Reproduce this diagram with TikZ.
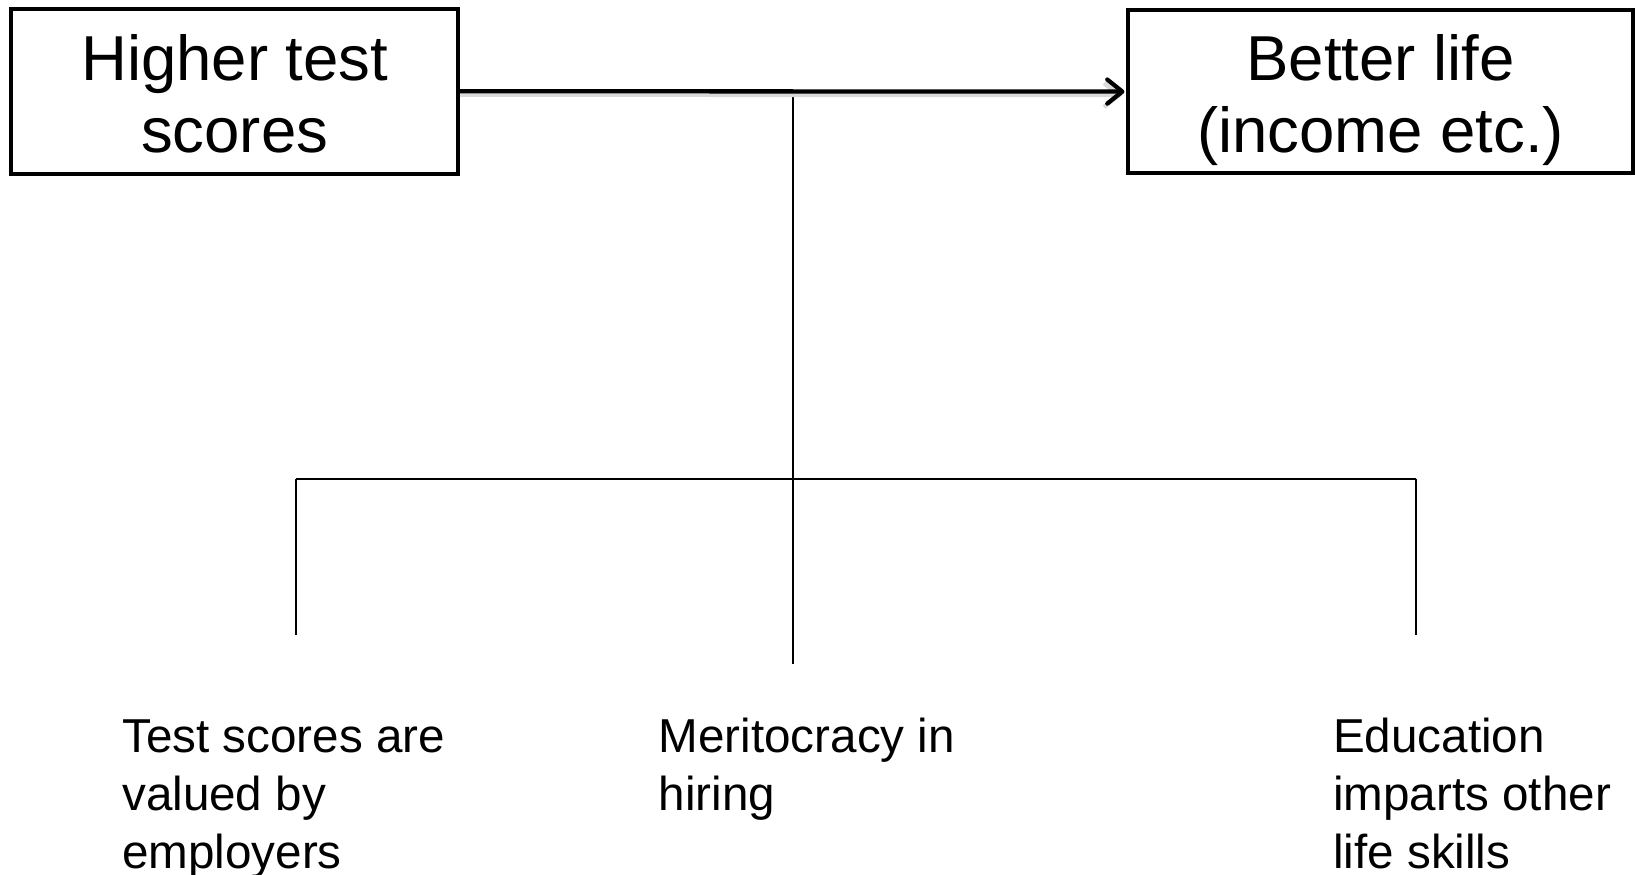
\documentclass[tikz,border=0pt]{standalone}
\usepackage{fontspec}
\setmainfont{Liberation Sans}
\usetikzlibrary{arrows.meta,calc}
\begin{document}
\begin{tikzpicture}[x=1pt,y=-1pt,
  framebox/.style={draw=black, line width=4pt, inner sep=0pt},
  headtext/.style={inner sep=0pt, align=center, font=\fontsize{63.5}{72}\selectfont},
  notetext/.style={inner sep=0pt, align=left, anchor=north west, font=\fontsize{47.6}{58}\selectfont},
  mainarrow/.style={line width=4.3pt, line cap=round, shorten >=2pt,
    -{Straight Barb[length=15pt,width=24pt,line cap=round,line join=round]}},
  arrowshadow/.style={line width=4.3pt, draw=black!15, shorten >=4pt,
    -{Straight Barb[length=15pt,width=24pt]}},
  branch/.style={line width=1.6pt},
  crossbar/.style={line width=2.2pt},
]
\useasboundingbox (0,0) rectangle (1635,875);

% the two outcome boxes
\node[framebox, minimum width=446.7pt, minimum height=165pt] (hts) at (234.7,91.2) {};
\node[framebox, minimum width=504.3pt, minimum height=162.3pt] (bl) at (1380.6,91.6) {};
\node[headtext] (htsText) at ($(hts.center)+(0,11.2)$) {\strut Higher test\\\strut scores};
\node[headtext] (blText) at ($(bl.center)+(0,10.6)$) {\strut Better life\\\strut (income etc.)};

% mechanism labels
\node[notetext] (valued) at (122,711.4) {\strut Test scores are\\\strut valued by\\\strut employers};
\node[notetext] (merit) at (658.5,711.4) {\strut Meritocracy in\\\strut hiring};
\node[notetext] (skills) at (1333,711.4) {\strut Education\\\strut imparts other\\\strut life skills};

% branching tree under the main arrow
\coordinate (junction) at ($(hts.east)!0.5!(bl.west)$);
\coordinate (barL) at (296,478.6);
\coordinate (barR) at (1416,478.6);
\coordinate (hub) at (junction |- barL);
\coordinate (leftEnd) at (296,635);
\coordinate (rightEnd) at (1416,635);
\coordinate (stemLevel) at (0,664);
\coordinate (stemEnd) at (junction |- stemLevel);

\draw[branch] (junction) -- (stemEnd);
\draw[crossbar] (barL) -- (barR);
\draw[branch] (barL) -- (leftEnd);
\draw[branch] (barR) -- (rightEnd);

% main causal arrow with its soft drop shadow
\draw[arrowshadow] ([yshift=-3.5pt]hts.east) -- ([yshift=-3.5pt]bl.west);
\draw[mainarrow] (hts.east) -- (bl.west);
\end{tikzpicture}
\end{document}
